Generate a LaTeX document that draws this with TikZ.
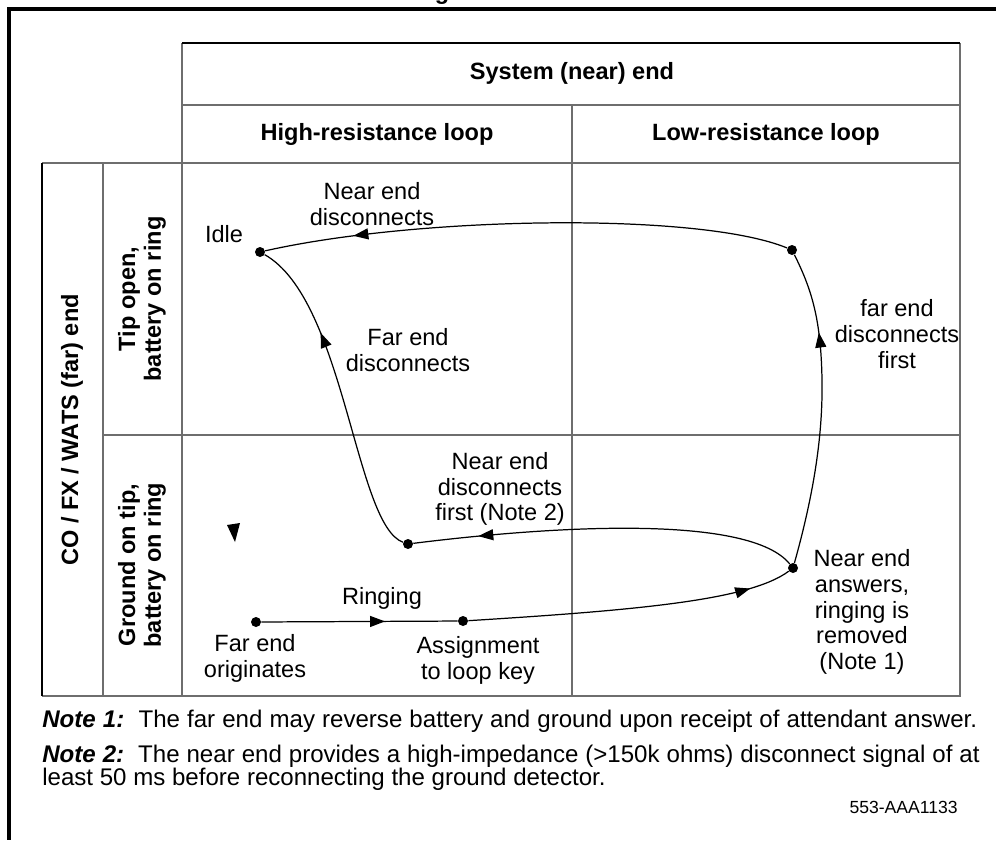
\documentclass[tikz,border=0pt]{standalone}
\usepackage{fontspec}
\setmainfont{Liberation Sans}
\usetikzlibrary{arrows.meta,decorations.markings}
\definecolor{rule}{HTML}{6E6E6E}

\begin{document}
\begin{tikzpicture}[x=0.02cm, y=-0.02cm,
  font=\fontsize{13.4}{14.7}\selectfont,
  grid/.style={draw=rule, line width=1.1pt},
  edge/.style={draw=black, line width=0.8pt},
  frame/.style={line width=2.2pt},
  dot/.style={circle, fill, inner sep=0pt, minimum size=0.2cm},
  lbl/.style={align=center, inner sep=0pt},
  head/.style={lbl, font=\fontsize{13.4}{14.7}\selectfont\bfseries},
  note/.style={anchor=base west, inner sep=0pt, font=\fontsize{13.7}{15}\selectfont},
  flow/.style={line width=0.7pt, postaction={decorate},
    decoration={markings, mark=at position #1 with {\arrow{Triangle[length=0.3cm, width=0.22cm]}}}}
]
\useasboundingbox (0,0) rectangle (996,859);

% page frame and cut-off title
\draw[frame] (7,9) -- (996,9);
\draw[frame] (9,9) -- (9,840);
\node[anchor=base, inner sep=0pt, font=\fontsize{13.4}{14.7}\selectfont\bfseries] (title) at (442,-1) {g};

% table
\draw[grid] (182,43) -- (182,696) -- (960,696) -- (960,43);
\draw[edge] (182,43) -- (960,43);
\draw[grid] (182,105) -- (960,105);
\draw[grid] (42,163) -- (960,163);
\draw[grid] (572,105) -- (572,696);
\draw[grid] (42,696) -- (182,696);
\draw[edge] (42,163) -- (42,696);
\draw[grid] (103,163) -- (103,696);
\draw[grid] (103,435) -- (960,435);

\node[head] (sys) at (572,73) {System (near) end};
\node[head] (high) at (377,134) {High-resistance loop};
\node[head] (low) at (766,134) {Low-resistance loop};
\node[head, rotate=90] (far) at (72,430) {CO / FX / WATS (far) end};
\node[head, rotate=90] (tip) at (142,299) {Tip open,\\battery on ring};
\node[head, rotate=90] (gnd) at (142,565) {Ground on tip,\\battery on ring};

% states
\node[dot] (idle) at (260,252) {};
\node[dot] (tr) at (792,250) {};
\node[dot] (bl) at (408,544) {};
\node[dot] (ans) at (793,568) {};
\node[dot] (orig) at (256,622) {};
\node[dot] (asg) at (463,621) {};

\node[lbl] (idlelbl) at (224,234) {Idle};
\node[lbl] (nedisc) at (372,204) {Near end\\disconnects};
\node[lbl] (fedisc) at (408,350) {Far end\\disconnects};
\node[lbl] (fefirst) at (897,334) {far end\\disconnects\\first};
\node[lbl] (nefirst) at (500,489) {Near end\\disconnects\\first (Note 2)};
\node[lbl] (ring) at (382,598) {Ringing};
\node[lbl] (origlbl) at (255,658) {Far end\\originates};
\node[lbl] (asglbl) at (478,660) {Assignment\\to loop key};
\node[lbl] (anslbl) at (862,612) {Near end\\answers,\\ringing is\\removed\\(Note 1)};

% transitions
\draw[flow=0.83] (tr) .. controls (700,212) and (420,216) .. (idle);
\draw[flow=0.7] (bl) .. controls (355,525) and (345,300) .. (idle);
\draw[flow=0.83] (ans) .. controls (750,515) and (560,525) .. (bl);
\draw[flow=0.63] (orig) -- (asg);
\draw[flow=0.87] (asg) .. controls (640,610) and (750,600) .. (ans);
\draw[flow=0.74] (ans) .. controls (812,500) and (823,440) .. (822,380)
  .. controls (821,320) and (812,290) .. (tr);
\fill (227,525) -- (240,523) -- (235,542) -- cycle;

% notes
\node[note] (n1) at (42,727) {\makebox[18.7cm][s]{\textbf{\textit{Note 1:}}\ \ The far end may reverse battery and ground upon receipt of attendant answer.}};
\node[note] (n2) at (42,762) {\makebox[18.75cm][s]{\textbf{\textit{Note 2:}}\ \ The near end provides a high-impedance (>150k ohms) disconnect signal of at}};
\node[note] (n2b) at (42,785) {least 50 ms before reconnecting the ground detector.};
\node[anchor=base east, inner sep=0pt, font=\fontsize{10}{12}\selectfont] (fig) at (958,813) {553-AAA1133};
\end{tikzpicture}
\end{document}
